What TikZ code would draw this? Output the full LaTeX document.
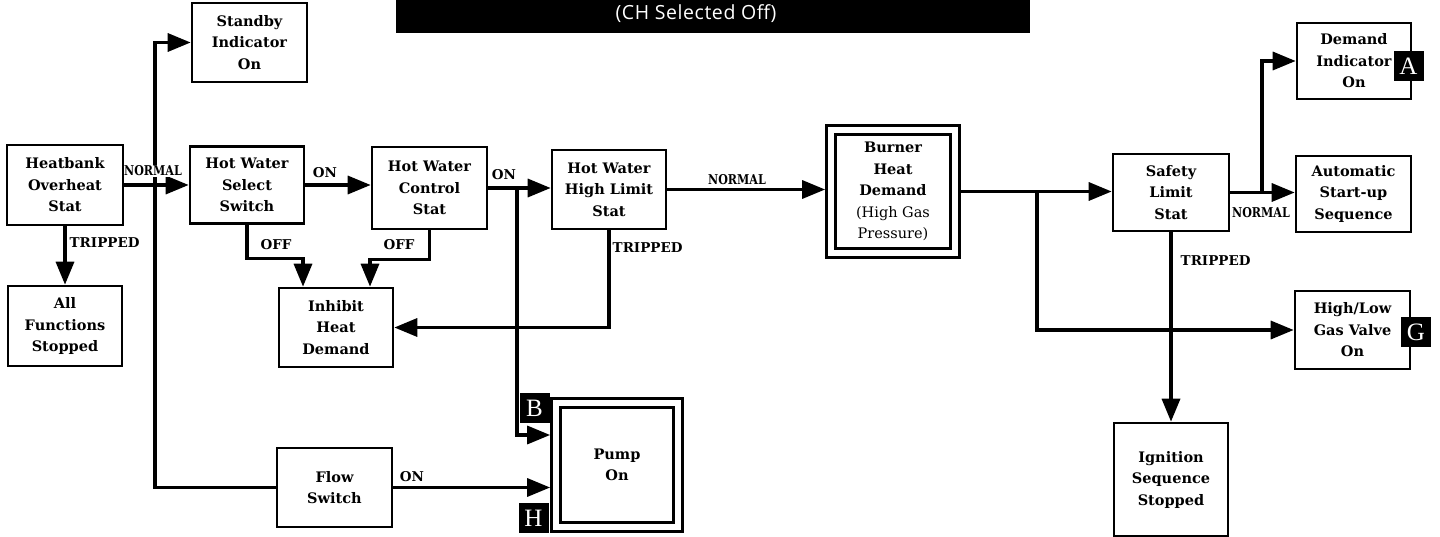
\documentclass[tikz,border=0pt]{standalone}
\usepackage{graphicx}
\usepackage{fontspec}
\setmainfont{DejaVu Serif}
\newfontfamily\titlefont[LetterSpace=3]{Open Sans}
\newfontfamily\badgefont{Liberation Serif}
\usetikzlibrary{arrows.meta,calc}
\begin{document}
\begin{tikzpicture}[x=1pt,y=-1pt,
  box/.style={draw, line width=2.6pt, align=center, inner sep=0pt,
    font=\bfseries\fontsize{14.5}{21.5}\selectfont},
  dbox/.style={box, double, double distance=6.5pt, outer sep=5.85pt},
  conn/.style={line width=3.4pt},
  arr/.style={conn, -{Triangle[length=23pt,width=18pt]}},
  lab/.style={font=\bfseries\fontsize{13.5}{15}\selectfont, inner sep=0.5pt},
  badge/.style={fill=black, text=white, minimum size=30pt, inner sep=0pt,
    font=\badgefont\fontsize{25}{25}\selectfont},
]
\useasboundingbox (0,0) rectangle (1440,537);

% banner
\node[fill=black, minimum width=634pt, minimum height=33pt, inner sep=0pt] (banner) at (713,16.5) {};
\node[text=white, anchor=base, font=\titlefont\fontsize{19.5}{20}\selectfont, inner sep=0pt] (title) at (696,19.5) {(CH Selected Off)};

% boxes
\node[box, minimum width=116pt, minimum height=80pt] (heat) at (65,185) {Heatbank\\Overheat\\Stat};
\node[box, minimum width=115pt, minimum height=79pt] (standby) at (249.5,42.5) {Standby\\Indicator\\On};
\node[box, minimum width=114pt, minimum height=80pt] (allf) at (65,326) {All\\Functions\\Stopped};
\node[box, minimum width=114pt, minimum height=77pt] (select) at (247,185) {Hot Water\\Select\\Switch};
\node[box, minimum width=115pt, minimum height=82pt] (control) at (429.5,188) {Hot Water\\Control\\Stat};
\node[box, minimum width=114pt, minimum height=79pt] (inhibit) at (336,327.5) {Inhibit\\Heat\\Demand};
\node[box, minimum width=115pt, minimum height=79pt] (flow) at (334.5,487.5) {Flow\\Switch};
\node[box, minimum width=114pt, minimum height=79pt] (highlim) at (609,189.5) {Hot Water\\High Limit\\Stat};
\node[dbox, minimum width=122pt, minimum height=124pt] (pump) at (617,465) {Pump\\On};
\node[dbox, minimum width=124pt, minimum height=123pt] (burner) at (893,191.5) {Burner\\Heat\\Demand\\{\mdseries(High Gas}\\{\mdseries Pressure)}};
\node[box, minimum width=116pt, minimum height=77pt] (safety) at (1171,192.5) {Safety\\Limit\\Stat};
\node[box, minimum width=114pt, minimum height=76pt] (demand) at (1354,61) {Demand\\Indicator\\On};
\node[box, minimum width=115pt, minimum height=76pt] (auto) at (1353.5,194) {Automatic\\Start-up\\Sequence};
\node[box, minimum width=115pt, minimum height=78pt] (hilo) at (1352.5,330) {High/Low\\Gas Valve\\On};
\node[box, minimum width=114pt, minimum height=113pt] (ignition) at (1171,479.5) {Ignition\\Sequence\\Stopped};

% junctions
\coordinate (j1) at (155,185);
\coordinate (j2) at (517,188);
\coordinate (j3) at (1037,191.5);
\coordinate (j4) at (1262,192.5);

% connectors
\draw[arr] (heat.east) -- (select.west);
\draw[arr] (j1) |- (standby.west);
\draw[conn] (j1) |- (flow.west);
\draw[arr] (heat.south) -- (allf.north);
\draw[arr] (select.east) -- (select.east -| control.west);
\draw[arr] (select.south) -- ++(0,34) -| ([xshift=-33pt]inhibit.north);
\draw[arr] (control.south) -- ++(0,29) -| ([xshift=34pt]inhibit.north);
\draw[arr] (control.east) -- (control.east -| highlim.west);
\draw[arr] (j2) |- ([yshift=30pt]pump.west);
\draw[arr] (flow.east) -- (flow.east -| pump.west);
\draw[arr] (highlim.south) |- (inhibit.east);
\draw[arr] (highlim.east) -- (highlim.east -| burner.west);
\draw[arr] (burner.east) -- (burner.east -| safety.west);
\draw[arr] (j3) |- (hilo.west);
\draw[arr] (safety.south) -- (ignition.north);
\draw[arr] (safety.east) -- (safety.east -| auto.west);
\draw[arr] (j4) |- (demand.west);

% labels
\node[lab, fill=white] (n1) at (153,171) {\scalebox{0.82}[1]{NORMAL}};
\node[lab, anchor=west] (t1) at (69,243) {TRIPPED};
\node[lab] (on1) at (325,173) {ON};
\node[lab] (off1) at (276,245) {OFF};
\node[lab] (off2) at (399,245) {OFF};
\node[lab] (on2) at (504,175) {ON};
\node[lab] (n2) at (737,180) {\scalebox{0.82}[1]{NORMAL}};
\node[lab, anchor=west] (t2) at (612,248) {TRIPPED};
\node[lab] (on3) at (412,477) {ON};
\node[lab, anchor=west] (t3) at (1180,261) {TRIPPED};
\node[lab] (n3) at (1261,213) {\scalebox{0.82}[1]{NORMAL}};

% badges
\node[badge] (bA) at (1408.5,66.5) {A};
\node[badge] (bG) at (1416,332) {G};
\node[badge] (bB) at (534.5,408) {B};
\node[badge] (bH) at (533.5,518) {H};
\end{tikzpicture}
\end{document}
